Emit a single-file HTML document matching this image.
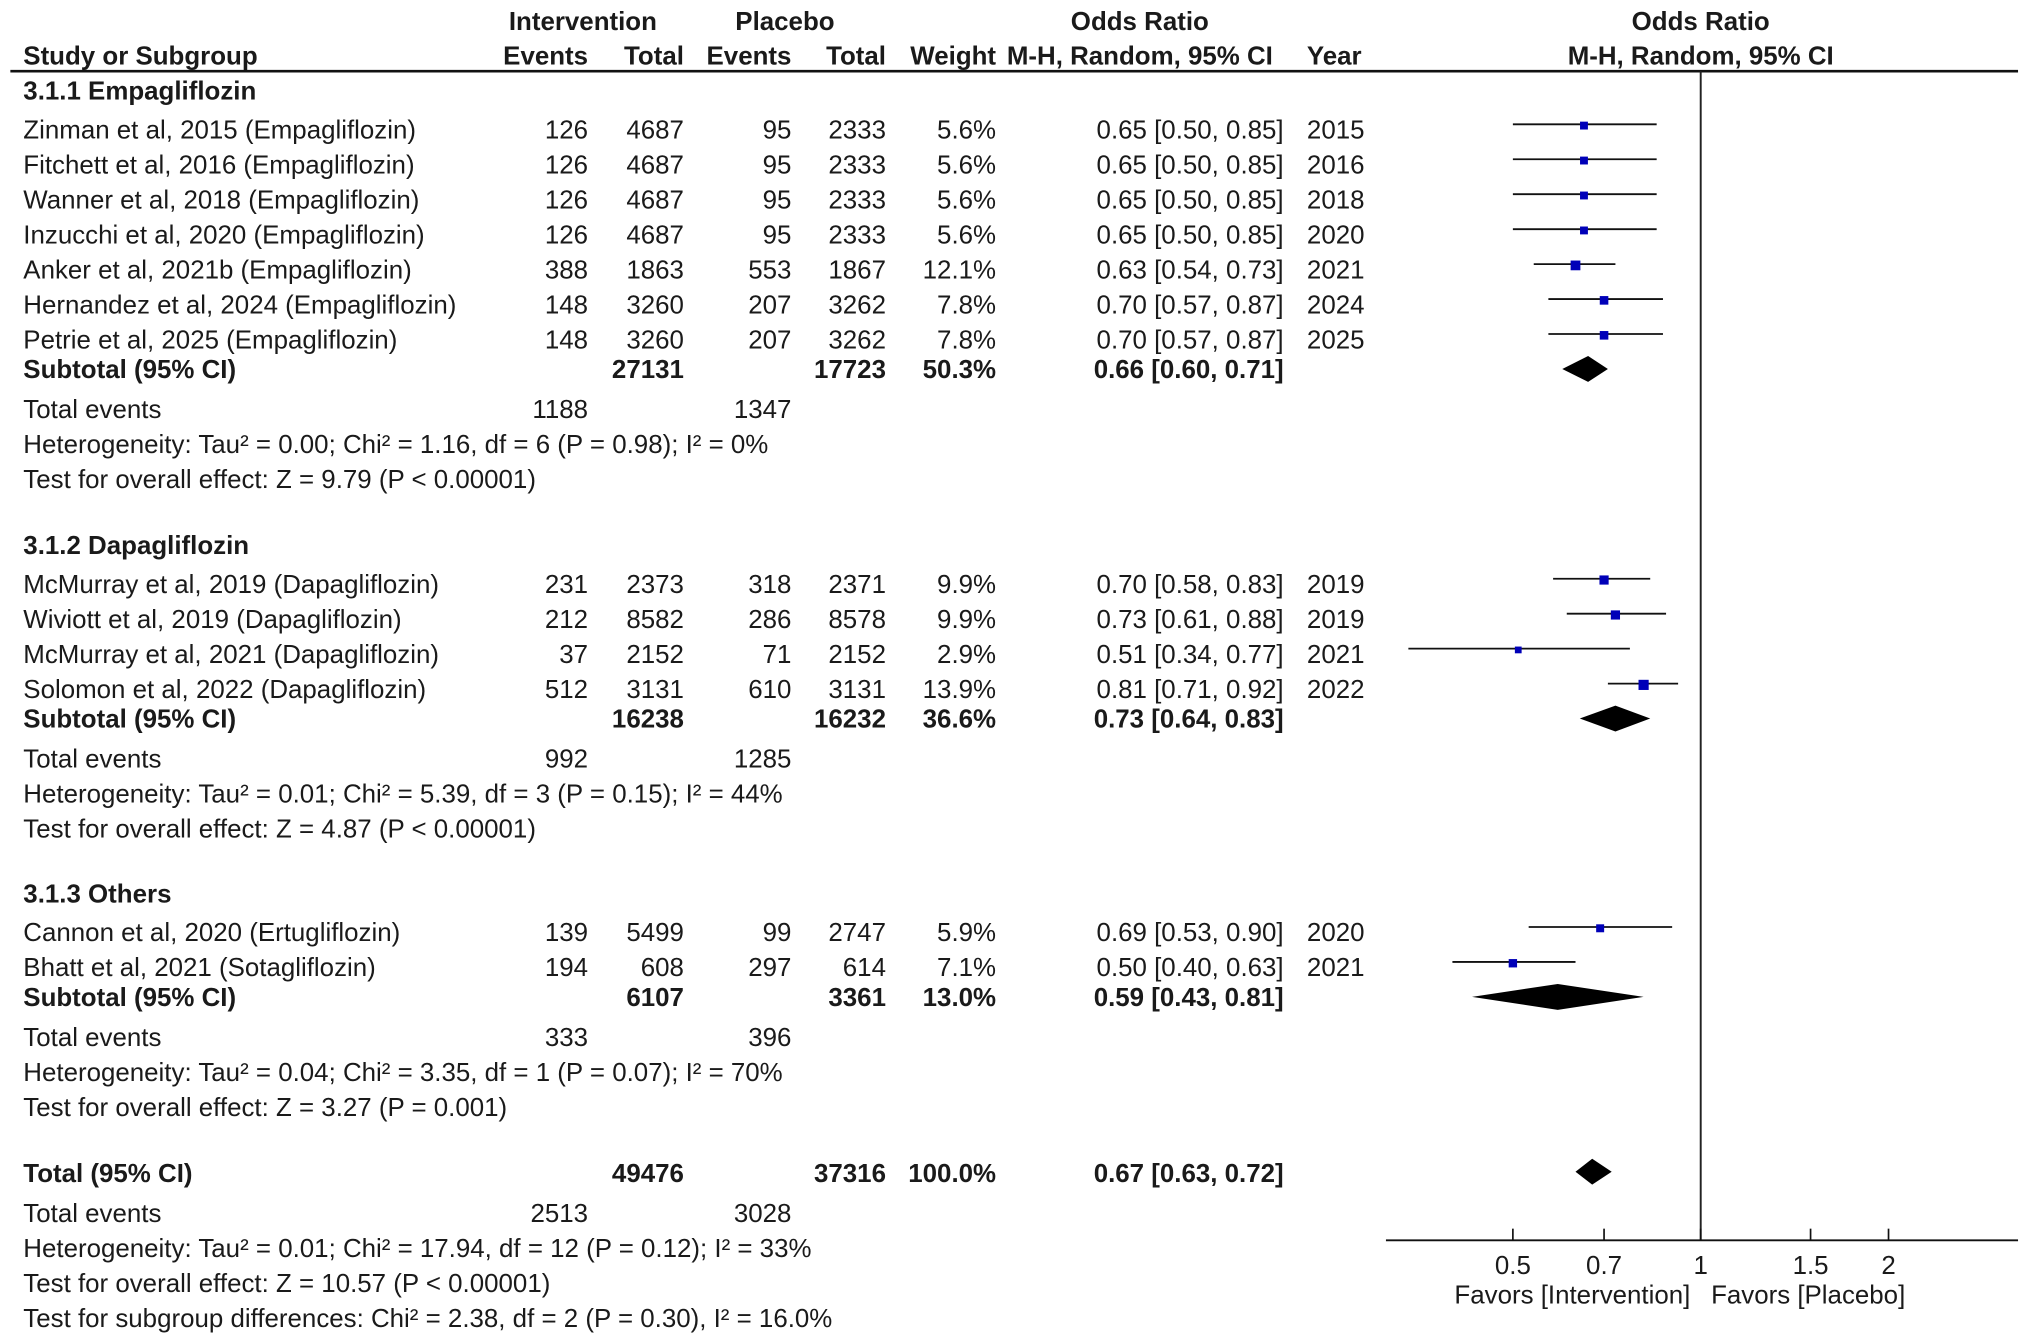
<!DOCTYPE html>
<html><head><meta charset="utf-8"><style>
html,body{margin:0;padding:0;background:#fff;}
svg{display:block;}
text{font-family:"Liberation Sans",Arial,sans-serif;font-size:20px;fill:#1a1a1a;}
.b{font-weight:bold;}
</style></head><body>
<svg id="plot" width="2031" height="1340" viewBox="0 0 1568 1035" preserveAspectRatio="none" xmlns="http://www.w3.org/2000/svg"></svg>
<script>
// ---- data ----
const studyNames = ["Zinman et al, 2015 (Empagliflozin)","Fitchett et al, 2016 (Empagliflozin)","Wanner et al, 2018 (Empagliflozin)","Inzucchi et al, 2020 (Empagliflozin)","Anker et al, 2021b (Empagliflozin)","Hernandez et al, 2024 (Empagliflozin)","Petrie et al, 2025 (Empagliflozin)","McMurray et al, 2019 (Dapagliflozin)","Wiviott et al, 2019 (Dapagliflozin)","McMurray et al, 2021 (Dapagliflozin)","Solomon et al, 2022 (Dapagliflozin)","Cannon et al, 2020 (Ertugliflozin)","Bhatt et al, 2021 (Sotagliflozin)"];
const studyGroup = [0,0,0,0,0,0,0,1,1,1,1,2,2];
const evInt = [126,126,126,126,388,148,148,231,212,37,512,139,194];
const totInt = [4687,4687,4687,4687,1863,3260,3260,2373,8582,2152,3131,5499,608];
const evPla = [95,95,95,95,553,207,207,318,286,71,610,99,297];
const totPla = [2333,2333,2333,2333,1867,3262,3262,2371,8578,2152,3131,2747,614];
const weights = [5.6,5.6,5.6,5.6,12.1,7.8,7.8,9.9,9.9,2.9,13.9,5.9,7.1];
const orEst = [0.65,0.65,0.65,0.65,0.63,0.70,0.70,0.70,0.73,0.51,0.81,0.69,0.50];
const orLo = [0.50,0.50,0.50,0.50,0.54,0.57,0.57,0.58,0.61,0.34,0.71,0.53,0.40];
const orHi = [0.85,0.85,0.85,0.85,0.73,0.87,0.87,0.83,0.88,0.77,0.92,0.90,0.63];
const years = [2015,2016,2018,2020,2021,2024,2025,2019,2019,2021,2022,2020,2021];
const groupTitles = ["3.1.1 Empagliflozin","3.1.2 Dapagliflozin","3.1.3 Others"];
const subTotInt = [27131,16238,6107];
const subTotPla = [17723,16232,3361];
const subWeight = ["50.3%","36.6%","13.0%"];
const subEst = [0.66,0.73,0.59];
const subLo = [0.60,0.64,0.43];
const subHi = [0.71,0.83,0.81];
const subEvInt = [1188,992,333];
const subEvPla = [1347,1285,396];
const subHet = ["Heterogeneity: Tau² = 0.00; Chi² = 1.16, df = 6 (P = 0.98); I² = 0%","Heterogeneity: Tau² = 0.01; Chi² = 5.39, df = 3 (P = 0.15); I² = 44%","Heterogeneity: Tau² = 0.04; Chi² = 3.35, df = 1 (P = 0.07); I² = 70%"];
const subTest = ["Test for overall effect: Z = 9.79 (P < 0.00001)","Test for overall effect: Z = 4.87 (P < 0.00001)","Test for overall effect: Z = 3.27 (P = 0.001)"];
const totalEst = 0.67, totalLo = 0.63, totalHi = 0.72;
const tickValues = [0.5,0.7,1,1.5,2];
const tickLabels = ["0.5","0.7","1","1.5","2"];

// ---- layout ----
const svg = document.getElementById('plot');
const NS = "http://www.w3.org/2000/svg";
const xOR = v => 1313 + 209.2*Math.log(v);
function el(tag, attrs, parent){const e=document.createElementNS(NS,tag);for(const k in attrs)e.setAttribute(k,attrs[k]);(parent||svg).appendChild(e);return e;}
function txt(s,x,y,anchor,bold,name){const t=el('text',{x:x,y:y+7,'text-anchor':anchor||'start'});if(bold)t.setAttribute('class','b');t.textContent=s;


return t;}
const fmt = v => v.toFixed(2);

// header
txt("Intervention",450,16,'middle',1,'header-intervention');
txt("Placebo",606,16,'middle',1,'header-placebo');
txt("Odds Ratio",880,16,'middle',1,'header-odds-ratio');
txt("Odds Ratio",1313,16,'middle',1,'header-odds-ratio-plot');
txt("Study or Subgroup",18,43,'start',1,'header-study');
txt("Events",454,43,'end',1,'header-events-int');
txt("Total",528,43,'end',1,'header-total-int');
txt("Events",611,43,'end',1,'header-events-pla');
txt("Total",684,43,'end',1,'header-total-pla');
txt("Weight",769,43,'end',1,'header-weight');
txt("M-H, Random, 95% CI",880,43,'middle',1,'header-method');
txt("Year",1009,43,'start',1,'header-year');
txt("M-H, Random, 95% CI",1313,43,'middle',1,'header-method-plot');
const rule = el('line',{x1:8,y1:55,x2:1558,y2:55,stroke:'#111','stroke-width':2});



// null line
const nl = el('line',{x1:1313,y1:55,x2:1313,y2:958,stroke:'#222','stroke-width':1.5});



function diamond(lo,est,hi,y,h,name){
  const p = el('polygon',{points:`${xOR(lo)},${y} ${xOR(est)},${y-h} ${xOR(hi)},${y} ${xOR(est)},${y+h}`,fill:'#000'});
  
  
}

const groupStartY = [70,421,690];
for(let g=0; g<3; g++){
  let y = groupStartY[g];
  txt(groupTitles[g],18,y,'start',1,'group-title-'+(g+1));
  y += 30;
  for(let i=0;i<studyNames.length;i++){
    if(studyGroup[i]!==g) continue;
    txt(studyNames[i],18,y,'start',0,'study-name');
    txt(String(evInt[i]),454,y,'end',0,'events-int');
    txt(String(totInt[i]),528,y,'end',0,'total-int');
    txt(String(evPla[i]),611,y,'end',0,'events-pla');
    txt(String(totPla[i]),684,y,'end',0,'total-pla');
    txt(weights[i].toFixed(1)+"%",769,y,'end',0,'weight');
    txt(`${fmt(orEst[i])} [${fmt(orLo[i])}, ${fmt(orHi[i])}]`,991,y,'end',0,'odds-ratio-ci');
    txt(String(years[i]),1009,y,'start',0,'year');
    const cy = y-4;
    const ln = el('line',{x1:xOR(orLo[i]),y1:cy,x2:xOR(orHi[i]),y2:cy,stroke:'#111','stroke-width':1.4});
    
    
    const s = 3 + Math.sqrt(weights[i])*1.3;
    const sq = el('rect',{x:xOR(orEst[i])-s/2,y:cy+1-s/2,width:s,height:s,fill:'#0000b8'});
    
    
    y += 27;
  }
  y -= 4;
  txt("Subtotal (95% CI)",18,y,'start',1,'subtotal-label');
  txt(String(subTotInt[g]),528,y,'end',1,'subtotal-int');
  txt(String(subTotPla[g]),684,y,'end',1,'subtotal-pla');
  txt(subWeight[g],769,y,'end',1,'subtotal-weight');
  txt(`${fmt(subEst[g])} [${fmt(subLo[g])}, ${fmt(subHi[g])}]`,991,y,'end',1,'subtotal-or');
  diamond(subLo[g],subEst[g],subHi[g],y,10,'subtotal-diamond');
  y += 31;
  txt("Total events",18,y,'start',0,'total-events-label');
  txt(String(subEvInt[g]),454,y,'end',0,'total-events-int');
  txt(String(subEvPla[g]),611,y,'end',0,'total-events-pla');
  txt(subHet[g],18,y+27,'start',0,'heterogeneity');
  txt(subTest[g],18,y+54,'start',0,'overall-effect');
}

// overall
txt("Total (95% CI)",18,906,'start',1,'total-label');
txt("49476",528,906,'end',1,'total-int');
txt("37316",684,906,'end',1,'total-pla');
txt("100.0%",769,906,'end',1,'total-weight');
txt(`${fmt(totalEst)} [${fmt(totalLo)}, ${fmt(totalHi)}]`,991,906,'end',1,'total-or');
diamond(totalLo,totalEst,totalHi,905,10,'total-diamond');
txt("Total events",18,937,'start',0,'overall-events-label');
txt("2513",454,937,'end',0,'overall-events-int');
txt("3028",611,937,'end',0,'overall-events-pla');
txt("Heterogeneity: Tau² = 0.01; Chi² = 17.94, df = 12 (P = 0.12); I² = 33%",18,964,'start',0,'overall-heterogeneity');
txt("Test for overall effect: Z = 10.57 (P < 0.00001)",18,991,'start',0,'overall-effect');
txt("Test for subgroup differences: Chi² = 2.38, df = 2 (P = 0.30), I² = 16.0%",18,1018,'start',0,'subgroup-differences');

// axis
const ax = el('line',{x1:1070,y1:958,x2:1558,y2:958,stroke:'#111','stroke-width':1.5});


for(let k=0;k<tickValues.length;k++){
  const x = xOR(tickValues[k]);
  const tk = el('line',{x1:x,y1:949,x2:x,y2:958,stroke:'#111','stroke-width':1.3});
  
  
  txt(tickLabels[k],x,977,'middle',0,'x-tick-label');
}
txt("Favors [Intervention]",1305,1000,'end',0,'favors-intervention');
txt("Favors [Placebo]",1321,1000,'start',0,'favors-placebo');
</script>
</body></html>
